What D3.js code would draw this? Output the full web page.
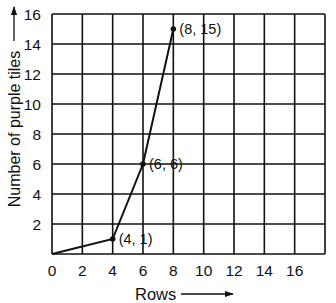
<!DOCTYPE html>
<html><head><meta charset="utf-8">
<script src="https://cdn.jsdelivr.net/npm/d3@7"></script>
<style>body{margin:0;background:#fff}text{font-family:"Liberation Sans",Arial,sans-serif;fill:#111}</style>
</head><body>
<svg id="c" width="336" height="303"></svg>
<script>
const rows = [0, 4, 6, 8];
const tiles = [0, 1, 6, 15];
const pointLabels = ["", "(4, 1)", "(6, 6)", "(8, 15)"];
const xTicks = [0, 2, 4, 6, 8, 10, 12, 14, 16];
const yTicks = [2, 4, 6, 8, 10, 12, 14, 16];
const xGrid = [0, 2, 4, 6, 8, 10, 12, 14, 16, 18];
const yGrid = [0, 2, 4, 6, 8, 10, 12, 14, 16];

const svg = d3.select("#c");
const x = d3.scaleLinear().domain([0, 18]).range([52, 325]);
const y = d3.scaleLinear().domain([0, 16]).range([254, 14]);

svg.append("defs").append("marker").attr("id", "ah")
  .attr("viewBox", "0 0 10 10").attr("refX", 9).attr("refY", 5)
  .attr("markerWidth", 7).attr("markerHeight", 7).attr("orient", "auto")
  .append("path").attr("d", "M0,1.5L10,5L0,8.5Z").attr("fill", "#111");

const g = svg.append("g");
g.selectAll(".vx").data(xGrid).join("line")
  .attr("x1", d => x(d)).attr("x2", d => x(d)).attr("y1", y(0)).attr("y2", y(16))
  .attr("stroke", "#111").attr("stroke-width", 1.6);
g.selectAll(".hy").data(yGrid).join("line")
  .attr("y1", d => y(d)).attr("y2", d => y(d)).attr("x1", x(0)).attr("x2", x(18))
  .attr("stroke", "#111").attr("stroke-width", 1.6);

svg.selectAll(".xt").data(xTicks).join("text")
  .attr("x", d => x(d)).attr("y", 276).attr("text-anchor", "middle")
  .attr("font-size", 15.5).text(d => d);
svg.selectAll(".yt").data(yTicks).join("text")
  .attr("x", 41).attr("y", d => y(d) + 5.5).attr("text-anchor", "end")
  .attr("font-size", 15.5).text(d => d);

const pts = rows.map((r, i) => ({r, t: tiles[i], l: pointLabels[i]}));
svg.append("path").datum(pts)
  .attr("d", d3.line().x(d => x(d.r)).y(d => y(d.t)))
  .attr("fill", "none").attr("stroke", "#111").attr("stroke-width", 2);
svg.selectAll(".pt").data(pts.slice(1)).join("circle")
  .attr("cx", d => x(d.r)).attr("cy", d => y(d.t)).attr("r", 2.8).attr("fill", "#111");
svg.selectAll(".pl").data(pts.slice(1)).join("text")
  .attr("x", d => x(d.r) + 6).attr("y", d => y(d.t) + 5)
  .attr("font-size", 14.5).text(d => d.l);

svg.append("text").attr("x", 135).attr("y", 300)
  .attr("font-size", 16.5).text("Rows");
svg.append("line").attr("x1", 181).attr("x2", 233).attr("y1", 294).attr("y2", 294)
  .attr("stroke", "#111").attr("stroke-width", 1.3).attr("marker-end", "url(#ah)");
svg.append("text").attr("transform", "translate(19.5,129) rotate(-90)")
  .attr("text-anchor", "middle").attr("font-size", 16).text("Number of purple tiles");
svg.append("line").attr("x1", 14).attr("x2", 14).attr("y1", 41).attr("y2", 7)
  .attr("stroke", "#111").attr("stroke-width", 1.3).attr("marker-end", "url(#ah)");
</script>
</body></html>
